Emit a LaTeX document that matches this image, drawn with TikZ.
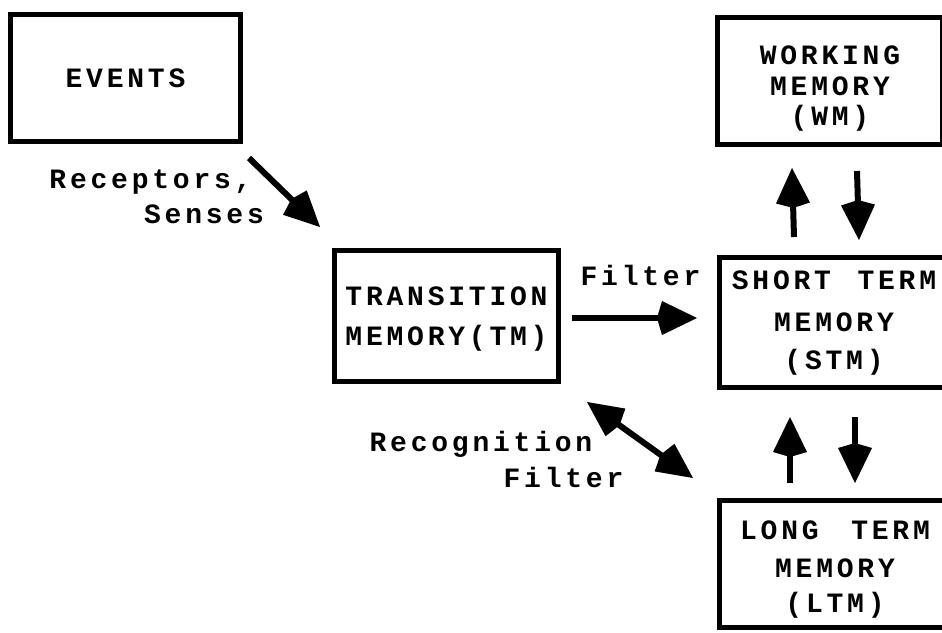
\documentclass[tikz,border=0pt]{standalone}
\usepackage{fontspec}
\usetikzlibrary{arrows.meta,calc}
\newfontfamily\dgfont{Liberation Mono}[LetterSpace=13.5]
\newcommand\dgstrut[1]{\rule{0pt}{#1}}
\begin{document}
\begin{tikzpicture}[x=1pt,y=-1pt,
  dgtext/.style={font=\dgfont\bfseries\fontsize{28}{36}\selectfont},
  membox/.style={draw, line width=5pt, inner sep=0pt, align=center, dgtext},
  lbl/.style={inner sep=0pt, anchor=base, dgtext},
  headtip/.tip={Kite[width=34pt,length=40pt,inset=5pt]},
  bigarrow/.style={line width=6pt, -headtip},
  dblarrow/.style={line width=6pt, headtip-headtip}]
\useasboundingbox (0,0) rectangle (942,632);
\fill[white] (0,0) rectangle (942,632);
\clip (0,0) rectangle (942,632);

\node[membox, minimum width=230pt, minimum height=127pt] (events) at (125.5,78) {EVENTS};
\node[membox, minimum width=224pt, minimum height=131pt] (tm) at (446.5,316) {\dgstrut{24pt}TRANSITION\\[4pt]MEMORY(TM)};
\node[membox, minimum width=225pt, minimum height=127pt] (wm) at (830,81) {\dgstrut{34pt}WORKING\\[-5pt]MEMORY\\[-6pt](WM)};
\node[membox, minimum width=229pt, minimum height=130pt] (stm) at (834,322.5) {\dgstrut{20pt}SHORT\hspace{6pt} TERM\\[6pt]MEMORY\\[2pt](STM)};
\node[membox, minimum width=231pt, minimum height=127pt] (ltm) at (835,564) {\dgstrut{30pt}LONG\hspace{12pt} TERM\\[2pt]MEMORY\\[-1pt](LTM)};

% connector end points
\coordinate (r1) at ($(events.south east)+(6,14)$);
\coordinate (r2) at ($(tm.north west)+(-12,-21)$);
\coordinate (f1) at ($(tm.east)+(11,2)$);
\coordinate (f2) at ($(stm.west)+(-20,-4.5)$);
\coordinate (g1) at ($(tm.south east)+(26,18)$);
\coordinate (g2) at ($(ltm.north west)+(-24,-20)$);
\coordinate (wu1) at ($(stm.north west)+(77,-18)$);
\coordinate (wu2) at ($(wm.south west)+(77,21)$);
\coordinate (wd1) at ($(wm.south west)+(142,24)$);
\coordinate (wd2) at ($(stm.north west)+(142,-15)$);
\coordinate (lu1) at ($(ltm.north west)+(73,-15)$);
\coordinate (lu2) at ($(stm.south west)+(73,27)$);
\coordinate (ld1) at ($(stm.south west)+(138,27)$);
\coordinate (ld2) at ($(ltm.north west)+(138,-15)$);

\draw[bigarrow] (r1) -- (r2);
\draw[bigarrow] (f1) -- (f2);
\draw[dblarrow] (g1) -- (g2);
\draw[bigarrow] (wu1) -- (wu2);
\draw[bigarrow] (wd1) -- (wd2);
\draw[bigarrow] (lu1) -- (lu2);
\draw[bigarrow] (ld1) -- (ld2);

\node[lbl] (lrec) at (150.5,188) {Receptors,};
\node[lbl] (lsen) at (204,223) {Senses};
\node[lbl] (lfil) at (640.5,285) {Filter};
\node[lbl] (lrcg) at (481,451) {Recognition};
\node[lbl] (lfil2) at (563.5,487) {Filter};
\end{tikzpicture}
\end{document}
